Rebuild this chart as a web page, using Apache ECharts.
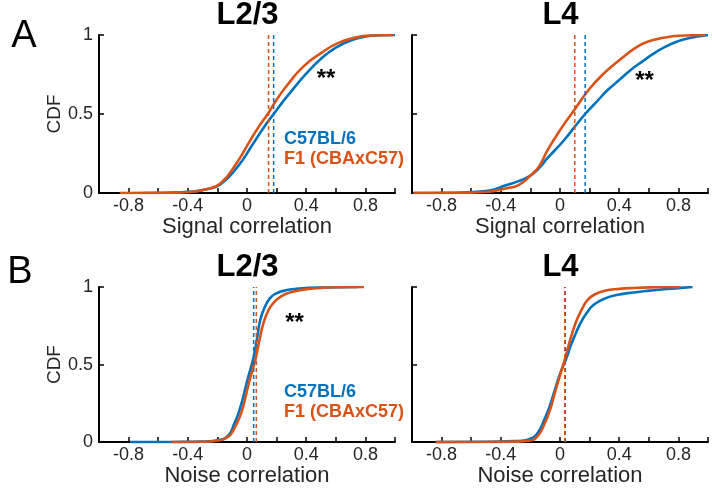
<!DOCTYPE html>
<html>
<head>
<meta charset="utf-8">
<script src="https://cdn.jsdelivr.net/npm/echarts@6/dist/echarts.min.js"></script>
<style>
html,body{margin:0;padding:0;background:#fff;}
#chart{width:712px;height:488px;}
</style>
</head>
<body>
<div id="chart"></div>
<script>
// ---- data ----
const xTickLabels = [-0.8, -0.4, 0, 0.4, 0.8];
const yTickLabels = [0, 0.5, 1];
const panelTitles = ['L2/3', 'L4', 'L2/3', 'L4'];
const panelLetters = ['A', 'B'];
const xNames = ['Signal correlation', 'Signal correlation', 'Noise correlation', 'Noise correlation'];
const groupNames = ['C57BL/6', 'F1 (CBAxC57)'];
const sigText = '**';

// Signal correlation, L2/3
const sigL23_C57 = [[-0.7,0],[-0.5,0.002],[-0.4,0.007],[-0.29,0.02],[-0.18,0.055],[-0.06,0.17],[0.04,0.31],[0.11,0.41],[0.18,0.5],[0.24,0.575],[0.3,0.645],[0.4,0.755],[0.5,0.85],[0.6,0.92],[0.7,0.965],[0.8,0.99],[0.9,0.998],[1.0,1]];
const sigL23_F1 = [[-0.86,0],[-0.6,0.001],[-0.45,0.004],[-0.35,0.01],[-0.29,0.02],[-0.18,0.06],[-0.07,0.19],[0.02,0.33],[0.08,0.42],[0.14,0.5],[0.2,0.59],[0.27,0.68],[0.38,0.8],[0.5,0.885],[0.61,0.947],[0.74,0.985],[0.85,0.997],[0.99,1]];
// Signal correlation, L4
const sigL4_C57 = [[-0.99,0],[-0.7,0.002],[-0.5,0.012],[-0.36,0.05],[-0.28,0.075],[-0.2,0.11],[-0.14,0.16],[-0.085,0.22],[0.027,0.334],[0.1,0.42],[0.17,0.5],[0.25,0.58],[0.32,0.65],[0.4,0.715],[0.48,0.78],[0.56,0.835],[0.635,0.884],[0.71,0.925],[0.79,0.958],[0.86,0.978],[0.93,0.99],[1.0,1]];
const sigL4_F1 = [[-0.99,0],[-0.7,0.001],[-0.5,0.006],[-0.36,0.03],[-0.28,0.05],[-0.2,0.11],[-0.14,0.17],[-0.085,0.27],[0.016,0.42],[0.1,0.53],[0.2,0.66],[0.3,0.76],[0.4,0.84],[0.52,0.925],[0.6,0.96],[0.7,0.982],[0.8,0.995],[0.98,1]];
// Noise correlation, L2/3
const noiL23_C57 = [[-0.79,0],[-0.5,0.001],[-0.3,0.003],[-0.18,0.015],[-0.12,0.05],[-0.09,0.11],[-0.06,0.18],[-0.034,0.26],[0.0,0.39],[0.045,0.55],[0.07,0.68],[0.09,0.79],[0.12,0.87],[0.157,0.93],[0.2,0.96],[0.27,0.98],[0.35,0.99],[0.5,0.997],[0.75,1]];
const noiL23_F1 = [[-0.51,0],[-0.3,0.002],[-0.18,0.012],[-0.12,0.04],[-0.09,0.08],[-0.05,0.16],[-0.023,0.24],[0.015,0.39],[0.056,0.53],[0.085,0.66],[0.112,0.77],[0.145,0.85],[0.18,0.9],[0.23,0.94],[0.29,0.965],[0.38,0.983],[0.47,0.992],[0.6,0.998],[0.79,1]];
// Noise correlation, L4
const noiL4_C57 = [[-0.84,0],[-0.5,0.002],[-0.3,0.006],[-0.2,0.02],[-0.15,0.06],[-0.108,0.14],[-0.07,0.23],[-0.04,0.32],[0.0,0.44],[0.039,0.53],[0.08,0.64],[0.14,0.77],[0.19,0.845],[0.23,0.887],[0.3,0.925],[0.39,0.95],[0.5,0.965],[0.59,0.975],[0.7,0.985],[0.8,0.993],[0.895,1]];
const noiL4_F1 = [[-0.84,0],[-0.5,0.001],[-0.3,0.003],[-0.2,0.01],[-0.15,0.04],[-0.108,0.11],[-0.07,0.2],[-0.04,0.3],[0.0,0.43],[0.027,0.515],[0.06,0.63],[0.106,0.77],[0.15,0.86],[0.185,0.915],[0.23,0.95],[0.3,0.975],[0.4,0.988],[0.5,0.994],[0.65,0.998],[0.815,1]];

// dashed reference lines (per panel)
const medians_C57 = [0.18, 0.17, 0.045, 0.036];
const medians_F1 = [0.146, 0.10, 0.063, 0.032];

const curves_C57 = [sigL23_C57, sigL4_C57, noiL23_C57, noiL4_C57];
const curves_F1 = [sigL23_F1, sigL4_F1, noiL23_F1, noiL4_F1];
const showStars = [true, true, true, false];
const showLegendText = [true, false, true, false];

// ---- layout / style ----
const BLUE = '#0072BD', ORANGE = '#D95319', INK = '#262626';
const FONT = '"Liberation Sans", Arial, Helvetica, sans-serif';
const gridPos = [
  {left: 99, top: 35, width: 296, height: 158},
  {left: 412, top: 35, width: 296, height: 158},
  {left: 99, top: 287, width: 296, height: 157},
  {left: 412, top: 287, width: 296, height: 157}
];

const grids = [], xAxes = [], yAxes = [], series = [], graphics = [];
gridPos.forEach((g, i) => {
  grids.push(Object.assign({containLabel: false}, g));
  xAxes.push({
    type: 'value', gridIndex: i, min: -1, max: 1, interval: 0.2,
    name: xNames[i], nameLocation: 'middle', nameGap: 16,
    nameTextStyle: {fontSize: 22, color: INK, fontFamily: FONT, verticalAlign: 'top'},
    axisLine: {onZero: false, lineStyle: {color: '#000', width: 2}},
    axisTick: {inside: true, length: 5, lineStyle: {color: '#000', width: 1.5}},
    axisLabel: {
      margin: 4, fontSize: 18, color: INK, fontFamily: FONT,
      showMinLabel: true, showMaxLabel: true,
      formatter: v => {
        const r = Math.round(v * 10) / 10;
        return xTickLabels.some(t => Math.abs(t - r) < 1e-6) ? String(r) : '';
      }
    },
    splitLine: {show: false}
  });
  const left = (i % 2 === 0);
  yAxes.push({
    type: 'value', gridIndex: i, min: 0, max: 1, interval: 0.5,
    name: left ? 'CDF' : '', nameLocation: 'middle', nameGap: 32,
    nameTextStyle: {fontSize: 19, color: INK, fontFamily: FONT},
    axisLine: {show: true, onZero: false, lineStyle: {color: '#000', width: 2}},
    axisTick: {show: true, inside: true, length: 5, lineStyle: {color: '#000', width: 1.5}},
    axisLabel: {
      show: left, margin: 6, fontSize: 18, color: INK, fontFamily: FONT,
      formatter: v => yTickLabels.some(t => Math.abs(t - v) < 1e-6) ? String(v) : ''
    },
    splitLine: {show: false}
  });
  series.push({
    type: 'line', xAxisIndex: i, yAxisIndex: i, data: curves_C57[i],
    showSymbol: false, smooth: 0.5, z: 2,
    lineStyle: {color: BLUE, width: 2.6}
  });
  series.push({
    type: 'line', xAxisIndex: i, yAxisIndex: i, data: curves_F1[i],
    showSymbol: false, smooth: 0.5, z: 3,
    lineStyle: {color: ORANGE, width: 2.6}
  });
  series.push({
    type: 'line', xAxisIndex: i, yAxisIndex: i,
    data: [[medians_C57[i], 0], [medians_C57[i], 1]],
    showSymbol: false, z: 4,
    lineStyle: {color: BLUE, width: 1.5, type: [4, 3]}
  });
  series.push({
    type: 'line', xAxisIndex: i, yAxisIndex: i,
    data: [[medians_F1[i], 0], [medians_F1[i], 1]],
    showSymbol: false, z: 4,
    lineStyle: {color: ORANGE, width: 1.5, type: [4, 3]}
  });
  graphics.push({
    type: 'text', z: 10,
    style: {text: panelTitles[i], x: g.left + g.width / 2 + 0.5, y: g.top - 20,
      align: 'center', verticalAlign: 'middle', fill: '#000',
      font: 'bold 31px ' + FONT}
  });
  if (showStars[i]) {
    const starPos = [[326, 79], [644.5, 81], [294.5, 323]][i];
    graphics.push({
      type: 'text', z: 10,
      style: {text: sigText, x: starPos[0], y: starPos[1], align: 'center', verticalAlign: 'middle',
        fill: '#000', font: 'bold 24px ' + FONT}
    });
  }
  if (showLegendText[i]) {
    const ly = i === 0 ? [139, 159] : [392, 412];
    graphics.push({
      type: 'text', z: 10,
      style: {text: groupNames[0], x: 284, y: ly[0], align: 'left', verticalAlign: 'middle',
        fill: BLUE, font: 'bold 18px ' + FONT}
    });
    graphics.push({
      type: 'text', z: 10,
      style: {text: groupNames[1], x: 284, y: ly[1], align: 'left', verticalAlign: 'middle',
        fill: ORANGE, font: 'bold 18px ' + FONT}
    });
  }
});
graphics.push({type: 'text', z: 10, style: {text: panelLetters[0], x: 24, y: 37, align: 'center', verticalAlign: 'middle', fill: '#000', font: '38px ' + FONT}});
graphics.push({type: 'text', z: 10, style: {text: panelLetters[1], x: 20, y: 273, align: 'center', verticalAlign: 'middle', fill: '#000', font: '38px ' + FONT}});

const chart = echarts.init(document.getElementById('chart'), null, {renderer: 'canvas'});
chart.setOption({
  animation: false,
  backgroundColor: '#fff',
  grid: grids, xAxis: xAxes, yAxis: yAxes, series: series, graphic: graphics
});
</script>
</body>
</html>
